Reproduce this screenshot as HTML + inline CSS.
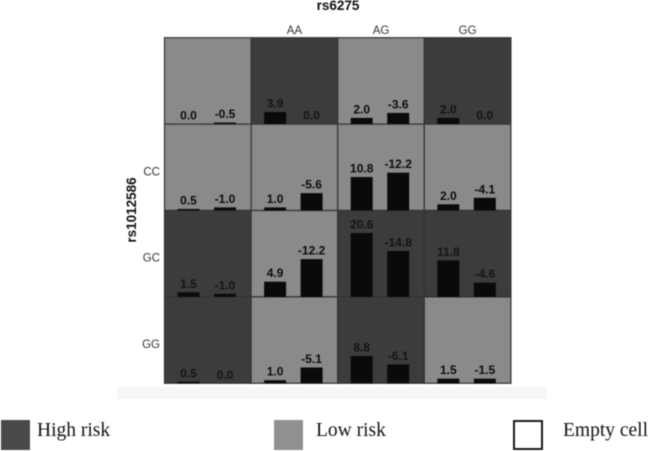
<!DOCTYPE html>
<html>
<head>
<meta charset="utf-8">
<title>rs6275 by rs1012586 risk chart</title>
<style>
html,body{margin:0;padding:0;background:#fff;}
body{width:648px;height:451px;overflow:hidden;}
svg{display:block;filter:blur(0.45px);}
</style>
</head>
<body>
<svg id="chart" width="648" height="451" viewBox="0 0 648 451" xmlns="http://www.w3.org/2000/svg"></svg>
<script>
const columnLabels = ["", "AA", "AG", "GG"];
const rowLabels = ["", "CC", "GC", "GG"];
const riskLevels = [
  ["low", "high", "low", "high"],
  ["low", "low", "low", "low"],
  ["high", "low", "high", "high"],
  ["high", "low", "high", "low"]
];
const seriesA = [
  [0.0, 3.9, 2.0, 2.0],
  [0.5, 1.0, 10.8, 2.0],
  [1.5, 4.9, 20.6, 11.8],
  [0.5, 1.0, 8.8, 1.5]
];
const seriesB = [
  [-0.5, 0.0, -3.6, 0.0],
  [-1.0, -5.6, -12.2, -4.1],
  [-1.0, -12.2, -14.8, -4.6],
  [0.0, -5.1, -6.1, -1.5]
];

const svg = document.getElementById('chart');
const NS = 'http://www.w3.org/2000/svg';
const gridLeft = 164.5, gridTop = 37.7, cellW = 86.6, cellH = 86.4;
const pxPerUnit = 3.1, barW = 22, barOffsetA = 13, barOffsetB = 49.5;
const colX = c => gridLeft + c * cellW;
const rowY = r => gridTop + r * cellH;
const barH = v => Math.abs(v) * pxPerUnit;
const fills = { high: '#3c3c3c', low: '#8a8a8a' };

function make(tag, attrs, text) {
  const el = document.createElementNS(NS, tag);
  for (const k in attrs) el.setAttribute(k, attrs[k]);
  if (text !== undefined) el.textContent = text;
  svg.appendChild(el);
  return el;
}
const sans = '"Liberation Sans", sans-serif';
const serif = '"Liberation Serif", serif';

const band = make('rect', { x: 117, y: 387, width: 430, height: 12, fill: '#f6f6f6' });



const title = make('text', { x: 338, y: 10, 'text-anchor': 'middle', 'font-family': sans, 'font-size': 13.5, 'font-weight': 'bold', fill: '#111' }, 'rs6275');



const yTitle = make('text', { transform: 'translate(136,210) rotate(-90)', 'text-anchor': 'middle', 'font-family': sans, 'font-size': 13.5, 'font-weight': 'bold', fill: '#111' }, 'rs1012586');



columnLabels.forEach((label, c) => {
  if (!label) return;
  const t = make('text', { x: colX(c) + cellW / 2, y: 34, 'text-anchor': 'middle', 'font-family': sans, 'font-size': 11.5, fill: '#333' }, label);
  
  
});
rowLabels.forEach((label, r) => {
  if (!label) return;
  const t = make('text', { x: 160, y: rowY(r) + cellH / 2 + 8, 'text-anchor': 'end', 'font-family': sans, 'font-size': 11.5, fill: '#333' }, label);
  
  
});

riskLevels.forEach((row, r) => {
  row.forEach((risk, c) => {
    const x = colX(c), y = rowY(r);
    const cell = make('rect', { x: x, y: y, width: cellW, height: cellH, fill: fills[risk], stroke: '#333', 'stroke-width': 1.2 });
    
    
  });
});

riskLevels.forEach((row, r) => {
  row.forEach((risk, c) => {
    const bottom = rowY(r + 1);
    const labelFill = risk === 'high' ? '#141414' : '#0c0c0c';
    [[seriesA[r][c], barOffsetA], [seriesB[r][c], barOffsetB]].forEach(pair => {
      const v = pair[0], bx = colX(c) + pair[1];
      const h = barH(v);
      if (h > 0) {
        const bar = make('rect', { x: bx, y: bottom - h, width: barW, height: h, fill: '#0a0a0a' });
        
        
      }
      const lbl = make('text', { x: bx + barW / 2, y: bottom - h - 4.5, 'text-anchor': 'middle', 'font-family': sans, 'font-size': 12, 'font-weight': 'bold', fill: labelFill }, v.toFixed(1));
      
      
    });
  });
});

const highSwatch = make('rect', { x: 1, y: 420, width: 29, height: 30, fill: '#494949' });


const highText = make('text', { x: 37, y: 436, 'font-family': serif, 'font-size': 19.5, fill: '#111' }, 'High risk');



const lowSwatch = make('rect', { x: 274, y: 420, width: 29, height: 30, fill: '#909090' });


const lowText = make('text', { x: 316, y: 436, 'font-family': serif, 'font-size': 19.5, fill: '#111' }, 'Low risk');



const emptySwatch = make('rect', { x: 514, y: 421, width: 28, height: 28, fill: '#fff', stroke: '#1a1a1a', 'stroke-width': 2 });


const emptyText = make('text', { x: 563, y: 436, 'font-family': serif, 'font-size': 19.5, fill: '#111' }, 'Empty cell');


</script>
</body>
</html>
